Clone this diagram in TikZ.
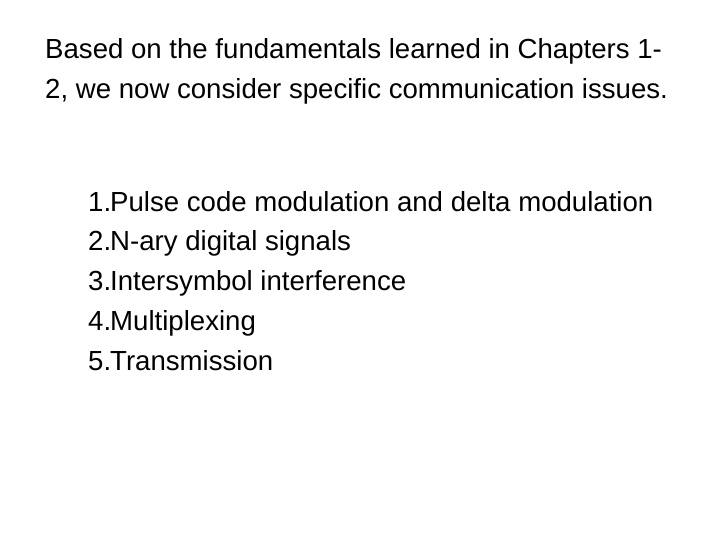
\documentclass[tikz,border=0pt]{standalone}
\usepackage{fontspec}
\setmainfont{Liberation Sans}
\begin{document}
\begin{tikzpicture}[x=1pt,y=1pt,txt/.style={anchor=base west,inner sep=0pt,font=\fontsize{27.6}{32}\selectfont}]
\useasboundingbox (0,0) rectangle (720,540);
\node[txt] (t1) at (45,540-59) {Based on the fundamentals learned in Chapters 1-};
\node[txt] (t2) at (45,540-99) {2, we now consider specific communication issues.};
\foreach \i/\t/\y in {1/Pulse code modulation and delta modulation/212,2/N-ary digital signals/251,3/Intersymbol interference/291,4/Multiplexing/331,5/Transmission/371}{
  \node[txt] (n\i) at (88,540-\y) {\i.};
  \node[txt] (l\i) at (110,540-\y) {\t};
}
\end{tikzpicture}
\end{document}
